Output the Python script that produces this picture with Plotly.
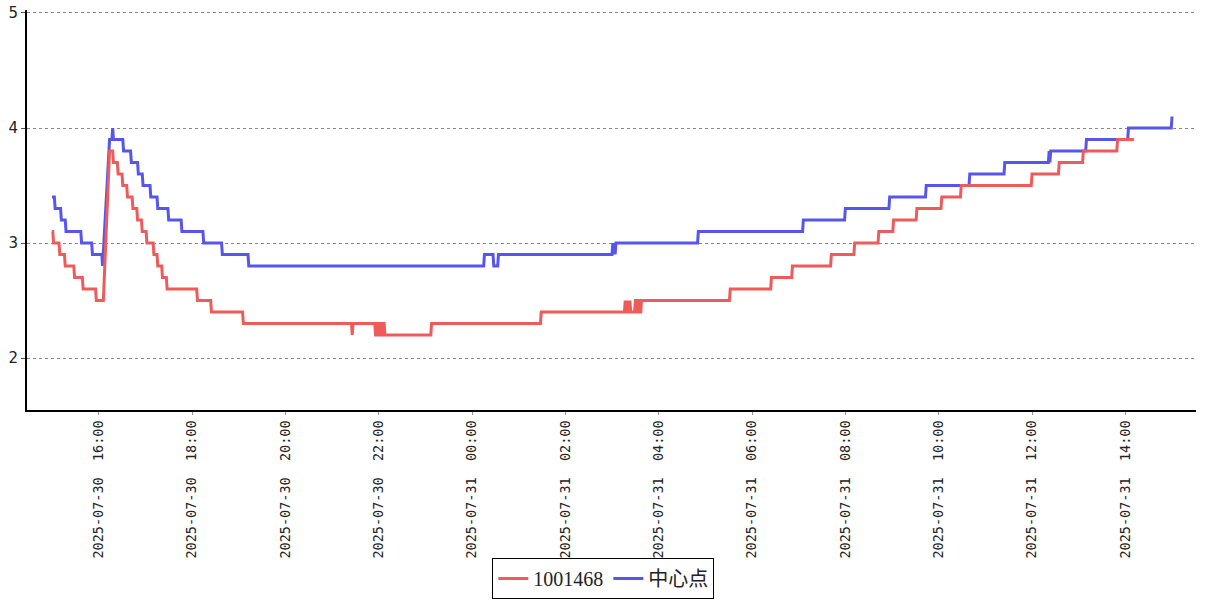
import plotly.graph_objects as go

D30 = "2025-07-30 "
D31 = "2025-07-31 "

# Series "1001468": level segments (start, end, value)
red_start = [D30+"15:00", D30+"15:02", D30+"15:10", D30+"15:17", D30+"15:29", D30+"15:40", D30+"15:57",
             D30+"16:14", D30+"16:19", D30+"16:25", D30+"16:31", D30+"16:37", D30+"16:44", D30+"16:50",
             D30+"16:56", D30+"17:02", D30+"17:11", D30+"17:16", D30+"17:22", D30+"17:28", D30+"18:07",
             D30+"18:25", D30+"19:06", D30+"21:26", D30+"21:27", D30+"21:56", D30+"21:58", D30+"22:00",
             D30+"22:02", D30+"22:04", D30+"22:06", D30+"22:08", D30+"23:08", D31+"01:29", D31+"03:17",
             D31+"03:18", D31+"03:20", D31+"03:21", D31+"03:23", D31+"03:24", D31+"03:30", D31+"03:32",
             D31+"03:34", D31+"03:36", D31+"03:38", D31+"05:32", D31+"06:25", D31+"06:52", D31+"07:42",
             D31+"08:12", D31+"08:43", D31+"09:02", D31+"09:32", D31+"10:04", D31+"10:29", D31+"12:00",
             D31+"12:35", D31+"13:06", D31+"13:50"]
red_end = [D30+"15:01", D30+"15:09", D30+"15:16", D30+"15:28", D30+"15:39", D30+"15:56", D30+"16:06",
           D30+"16:18", D30+"16:24", D30+"16:30", D30+"16:36", D30+"16:43", D30+"16:49", D30+"16:55",
           D30+"17:01", D30+"17:10", D30+"17:15", D30+"17:21", D30+"17:27", D30+"18:06", D30+"18:24",
           D30+"19:05", D30+"21:25", D30+"21:26", D30+"21:55", D30+"21:57", D30+"21:59", D30+"22:01",
           D30+"22:03", D30+"22:05", D30+"22:07", D30+"23:07", D31+"01:28", D31+"03:16", D31+"03:17",
           D31+"03:19", D31+"03:20", D31+"03:22", D31+"03:23", D31+"03:29", D31+"03:31", D31+"03:33",
           D31+"03:35", D31+"03:37", D31+"05:31", D31+"06:24", D31+"06:51", D31+"07:41", D31+"08:11",
           D31+"08:42", D31+"09:01", D31+"09:31", D31+"10:03", D31+"10:28", D31+"11:59", D31+"12:34",
           D31+"13:05", D31+"13:49", D31+"14:11"]
red_value = [3.1, 3.0, 2.9, 2.8, 2.7, 2.6, 2.5,
             3.8, 3.7, 3.6, 3.5, 3.4, 3.3, 3.2,
             3.1, 3.0, 2.9, 2.8, 2.7, 2.6, 2.5,
             2.4, 2.3, 2.2, 2.3, 2.2, 2.3, 2.2,
             2.3, 2.2, 2.3, 2.2, 2.3, 2.4, 2.5,
             2.4, 2.5, 2.4, 2.5, 2.4, 2.5, 2.4,
             2.5, 2.4, 2.5, 2.6, 2.7, 2.8, 2.9,
             3.0, 3.1, 3.2, 3.3, 3.4, 3.5, 3.6,
             3.7, 3.8, 3.9]

# Series "中心点": level segments (start, end, value)
blue_start = [D30+"15:00", D30+"15:04", D30+"15:12", D30+"15:18", D30+"15:38", D30+"15:52", D30+"16:05",
              D30+"16:14", D30+"16:18", D30+"16:19", D30+"16:32", D30+"16:42", D30+"16:51", D30+"16:57",
              D30+"17:07", D30+"17:16", D30+"17:30", D30+"17:47", D30+"18:15", D30+"18:39", D30+"19:13",
              D31+"00:16", D31+"00:28", D31+"00:34", D31+"03:01", D31+"03:02", D31+"03:03", D31+"03:04",
              D31+"03:05", D31+"04:51", D31+"07:06", D31+"08:00", D31+"08:57", D31+"09:44", D31+"10:40",
              D31+"11:25", D31+"12:22", D31+"12:23", D31+"12:24", D31+"13:10", D31+"14:04", D31+"15:00"]
blue_end = [D30+"15:03", D30+"15:11", D30+"15:17", D30+"15:37", D30+"15:51", D30+"16:04", D30+"16:05",
            D30+"16:17", D30+"16:18", D30+"16:31", D30+"16:41", D30+"16:50", D30+"16:56", D30+"17:06",
            D30+"17:15", D30+"17:29", D30+"17:46", D30+"18:14", D30+"18:38", D30+"19:12", D31+"00:15",
            D31+"00:27", D31+"00:33", D31+"03:00", D31+"03:01", D31+"03:02", D31+"03:03", D31+"03:04",
            D31+"04:50", D31+"07:05", D31+"07:59", D31+"08:56", D31+"09:43", D31+"10:39", D31+"11:24",
            D31+"12:21", D31+"12:22", D31+"12:23", D31+"13:09", D31+"14:03", D31+"14:59", D31+"15:00"]
blue_value = [3.4, 3.3, 3.2, 3.1, 3.0, 2.9, 2.8,
              3.9, 4.0, 3.9, 3.8, 3.7, 3.6, 3.5,
              3.4, 3.3, 3.2, 3.1, 3.0, 2.9, 2.8,
              2.9, 2.8, 2.9, 3.0, 2.9, 3.0, 2.9,
              3.0, 3.1, 3.2, 3.3, 3.4, 3.5, 3.6,
              3.7, 3.8, 3.7, 3.8, 3.9, 4.0, 4.1]

series_names = ["1001468", "中心点"]
series_colors = ["#EE5B5B", "#5656EC"]


def flatten(starts, ends, values):
    xs, ys = [], []
    for s, e, v in zip(starts, ends, values):
        xs.append(s)
        ys.append(v)
        if e != s:
            xs.append(e)
            ys.append(v)
    return xs, ys


rx, ry = flatten(red_start, red_end, red_value)
bx, by = flatten(blue_start, blue_end, blue_value)

fig = go.Figure()
fig.add_trace(go.Scatter(x=bx, y=by, mode="lines", name=series_names[1],
                         line=dict(color=series_colors[1], width=3)))
fig.add_trace(go.Scatter(x=rx, y=ry, mode="lines", name=series_names[0],
                         line=dict(color=series_colors[0], width=3)))

fig.update_layout(
    width=1207, height=600,
    margin=dict(l=27, r=11, t=10, b=190, autoexpand=False),
    paper_bgcolor="white", plot_bgcolor="white",
    showlegend=True,
    legend=dict(orientation="h", traceorder="reversed",
                x=0.493, y=-0.4725, xanchor="center", yanchor="bottom",
                bordercolor="#000000", borderwidth=1, bgcolor="white",
                font=dict(family="Liberation Serif, Noto Sans CJK SC", size=20, color="#222222"),
                itemwidth=30, tracegroupgap=0),
    xaxis=dict(
        type="date", automargin=False,
        range=["2025-07-30 14:27:50", "2025-07-31 15:30:50"],
        tick0="2025-07-30 00:00", dtick=7200000,
        tickformat="%Y-%m-%d\u00a0 %H:%M", tickangle=-90,
        tickfont=dict(family="DejaVu Sans Mono", size=13.5, color="#222222"),
        showgrid=False, zeroline=False,
        showline=True, linecolor="#000000", linewidth=2,
        ticks="outside", ticklen=3, tickcolor="#999999",
        ticklabeloverflow="allow",
    ),
    yaxis=dict(
        automargin=False,
        range=[1.548, 5.026],
        tickvals=[2, 3, 4, 5],
        tickfont=dict(family="DejaVu Sans", size=15, color="#222222"),
        showgrid=True, gridcolor="#888888", griddash="dot", gridwidth=1,
        zeroline=False,
        showline=True, linecolor="#000000", linewidth=2,
        ticks="outside", ticklen=4, tickcolor="#555555",
        ticklabeloverflow="allow",
    ),
)

# remove the page's default body margin so the figure fills the window exactly
fig.write_html("out.html", config={"displayModeBar": False},
               post_script="document.body.style.margin='0';document.body.style.overflow='hidden';")
